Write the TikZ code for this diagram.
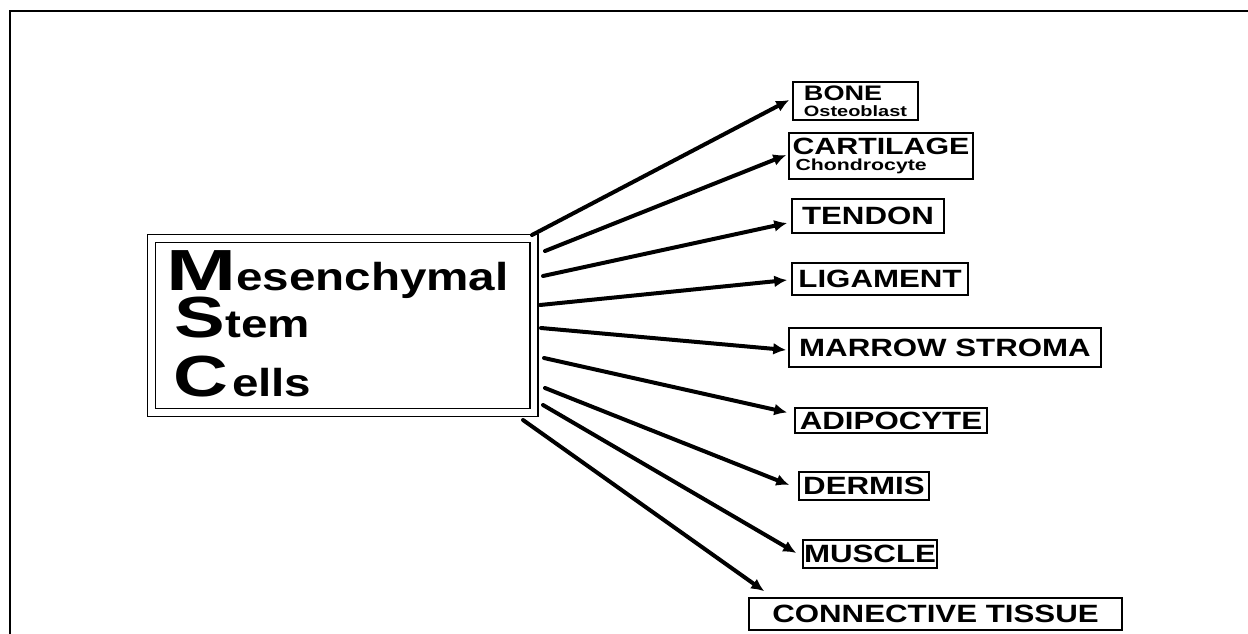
\documentclass[tikz,border=0pt]{standalone}
\usepackage{fontspec}
\setmainfont{Liberation Sans}
% widened sans faces for the lettering
\newfontfamily\capM[FakeStretch=1.45]{Liberation Sans}
\newfontfamily\capwide[FakeStretch=1.31]{Liberation Sans}
\newfontfamily\lowwide[FakeStretch=1.22]{Liberation Sans}
\newfontfamily\labwide[FakeStretch=1.25]{Liberation Sans}
\newfontfamily\headwide[FakeStretch=1.29]{Liberation Sans}
\newfontfamily\subwide[FakeStretch=1.33]{Liberation Sans}
\usetikzlibrary{arrows.meta,calc}

\begin{document}
\begin{tikzpicture}[x=1pt,y=-1pt,
  tissue/.style={draw, line width=1.5pt, inner sep=0pt,
    font=\labwide\bfseries\fontsize{25}{25}\selectfont},
  branch/.style={line width=4pt, line cap=round,
    -{Latex[length=13pt,width=12pt]}},
  msctext/.style={anchor=base west, inner sep=0pt},
]
\useasboundingbox (0,0) rectangle (1248,634);

% page frame (top and left edges)
\draw[line width=1.2pt] (10,634) -- (10,11) -- (1248,11);

% central box
\node[draw, double, line width=1.6pt, double distance=6.4pt,
      minimum width=382.5pt, minimum height=174pt, inner sep=0pt]
      (msc) at (342.75,325.5) {};
\node[msctext] (m1) at (166,290)
  {\bfseries\capM\fontsize{58}{58}\selectfont M\lowwide\fontsize{39}{39}\selectfont esenchymal};
\node[msctext] (m2) at (174.5,337)
  {\bfseries\capwide\fontsize{58}{58}\selectfont S\lowwide\fontsize{39}{39}\selectfont tem};
\node[msctext] (m3) at (173,396)
  {\bfseries\capwide\fontsize{58}{58}\selectfont C\kern4pt\lowwide\fontsize{39}{39}\selectfont ells};

% tissue boxes
\node[tissue, minimum width=125pt, minimum height=38pt] (bone) at (855.5,101)
  {\vbox{\offinterlineskip
    \hbox{\headwide\bfseries\fontsize{21}{21}\selectfont BONE}\kern4.5pt
    \hbox{\subwide\bfseries\fontsize{15}{15}\selectfont Osteoblast}}};
\node[tissue, minimum width=184pt, minimum height=46pt] (cart) at (881,156)
  {\vbox{\offinterlineskip
    \hbox{\headwide\bfseries\fontsize{23.5}{23.5}\selectfont CARTILAGE}\kern3.5pt
    \hbox{\kern3pt\subwide\bfseries\fontsize{16}{16}\selectfont Chondrocyte}}};
\node[tissue, minimum width=152pt, minimum height=34pt] (tendon) at (868,216) {TENDON};
\node[tissue, minimum width=176pt, minimum height=32pt] (lig) at (880,279) {LIGAMENT};
\node[tissue, minimum width=312pt, minimum height=39pt] (marrow) at (945,347.5) {MARROW STROMA};
\node[tissue, minimum width=192pt, minimum height=25pt] (adipo) at (891,420.5) {ADIPOCYTE};
\node[tissue, minimum width=130pt, minimum height=28pt] (dermis) at (864,486) {DERMIS};
\node[tissue, minimum width=134pt, minimum height=28pt] (muscle) at (870,554) {MUSCLE};
\node[tissue, minimum width=373pt, minimum height=32pt] (conn) at (935.5,614) {CONNECTIVE TISSUE};

% arrow origins on the right side of the central box
\coordinate (s1) at (532,235);
\coordinate (s2) at (545,251);
\coordinate (s3) at (543,276);
\coordinate (s4) at (540,305);
\coordinate (s5) at (541,328);
\coordinate (s6) at (544,358);
\coordinate (s7) at (545,388);
\coordinate (s8) at (543,405);
\coordinate (s9) at (523,420);

% arrows to each tissue
\draw[branch] (s1) -- ($(bone.west)+(-3,-1)$);
\draw[branch] (s2) -- ($(cart.west)+(-2,-1)$);
\draw[branch] (s3) -- ($(tendon.west)+(-4,7)$);
\draw[branch] (s4) -- ($(lig.west)+(-4,1)$);
\draw[branch] (s5) -- ($(marrow.west)+(-2,2.5)$);
\draw[branch] (s6) -- ($(adipo.west)+(-7,-8)$);
\draw[branch] (s7) -- ($(dermis.west)+(-9,-1)$);
\draw[branch] (s8) -- ($(muscle.west)+(-6,-1)$);
\draw[branch] (s9) -- ($(conn.north west)+(16,-6)$);
\end{tikzpicture}
\end{document}
